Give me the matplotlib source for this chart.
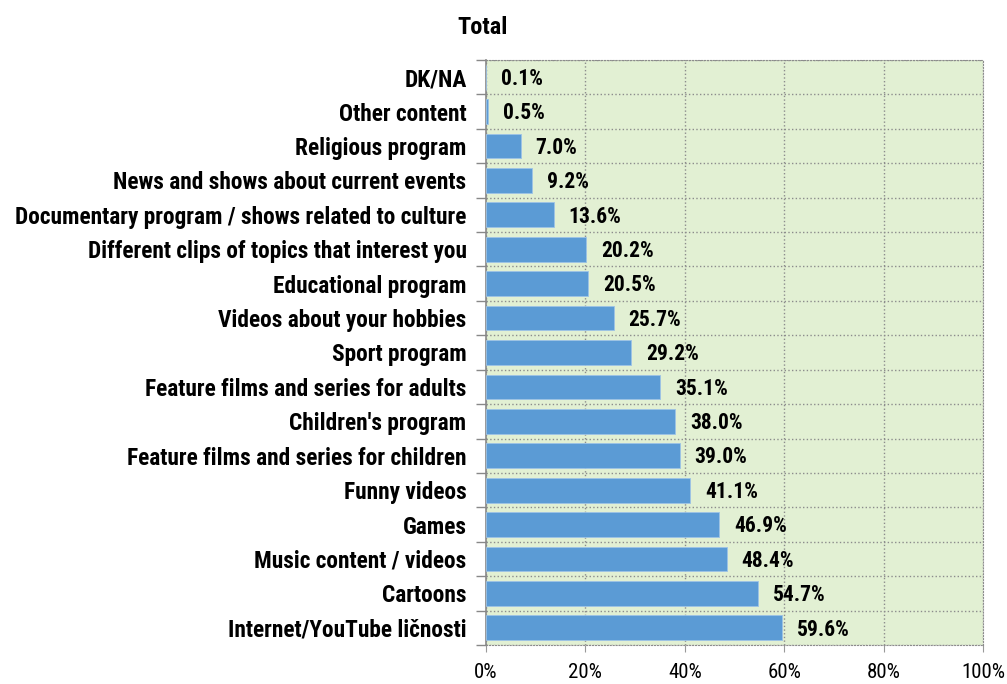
import matplotlib
matplotlib.use('Agg')
import matplotlib.pyplot as plt
import numpy as np
from matplotlib.ticker import FixedLocator, FuncFormatter

plt.rcParams['font.family'] = ['Roboto Condensed', 'DejaVu Sans']

categories = [
    'DK/NA',
    'Other content',
    'Religious program',
    'News and shows about current events',
    'Documentary program / shows related to culture',
    'Different clips of topics that interest you',
    'Educational program',
    'Videos about your hobbies',
    'Sport program',
    'Feature films and series for adults',
    "Children's program",
    'Feature films and series for children',
    'Funny videos',
    'Games',
    'Music content / videos',
    'Cartoons',
    'Internet/YouTube ličnosti',
]
values = [0.1, 0.5, 7.0, 9.2, 13.6, 20.2, 20.5, 25.7, 29.2, 35.1,
          38.0, 39.0, 41.1, 46.9, 48.4, 54.7, 59.6]
x_ticks = [0, 20, 40, 60, 80, 100]

fig = plt.figure(figsize=(10.07, 6.84), dpi=100)
ax = fig.add_axes([0.4826, 0.057, 0.4936, 0.8553])

n = len(categories)
ypos = np.arange(n)
ax.barh(ypos, values, height=0.72, color='#5B9BD5', edgecolor='#9DC3E6',
        linewidth=0.6, zorder=3)

for y, v in zip(ypos, values):
    ax.text(v + 3.0, y + 0.05, f'{v:.1f}%', va='center', ha='left',
            fontsize=15.5, fontweight='bold', color='black', zorder=4)

ax.set_facecolor('#E2F0D3')
ax.set_xlim(0, 100)
ax.set_ylim(n - 0.5, -0.5)

ax.set_yticks(ypos)
ax.set_yticklabels(categories, fontsize=16.8, fontweight='bold')
ax.tick_params(axis='y', which='major', length=0, pad=14)
ax.yaxis.set_minor_locator(FixedLocator(np.arange(-0.5, n, 1.0)))
ax.tick_params(axis='y', which='minor', length=7, color='#888888', width=1)

ax.xaxis.set_major_locator(FixedLocator(x_ticks))
ax.xaxis.set_major_formatter(FuncFormatter(lambda v, p: f'{v:.0f}%'))
ax.tick_params(axis='x', length=5, color='#999999', labelsize=15, pad=8)
for t in ax.xaxis.get_ticklines():
    t.set_linestyle(':')

ax.grid(axis='x', which='major', linestyle=':', color='#8C8C8C', linewidth=1.0, zorder=1)
ax.grid(axis='y', which='minor', linestyle=':', color='#8C8C8C', linewidth=1.0, zorder=1)

for side in ['top', 'right', 'bottom']:
    ax.spines[side].set_linestyle(':')
    ax.spines[side].set_color('#8C8C8C')
ax.spines['left'].set_color('#888888')
ax.spines['left'].set_linewidth(1.2)

fig.text(0.479, 0.96, 'Total', ha='center', va='center',
         fontsize=17.5, fontweight='bold')

fig.savefig('out.png', dpi=100)
